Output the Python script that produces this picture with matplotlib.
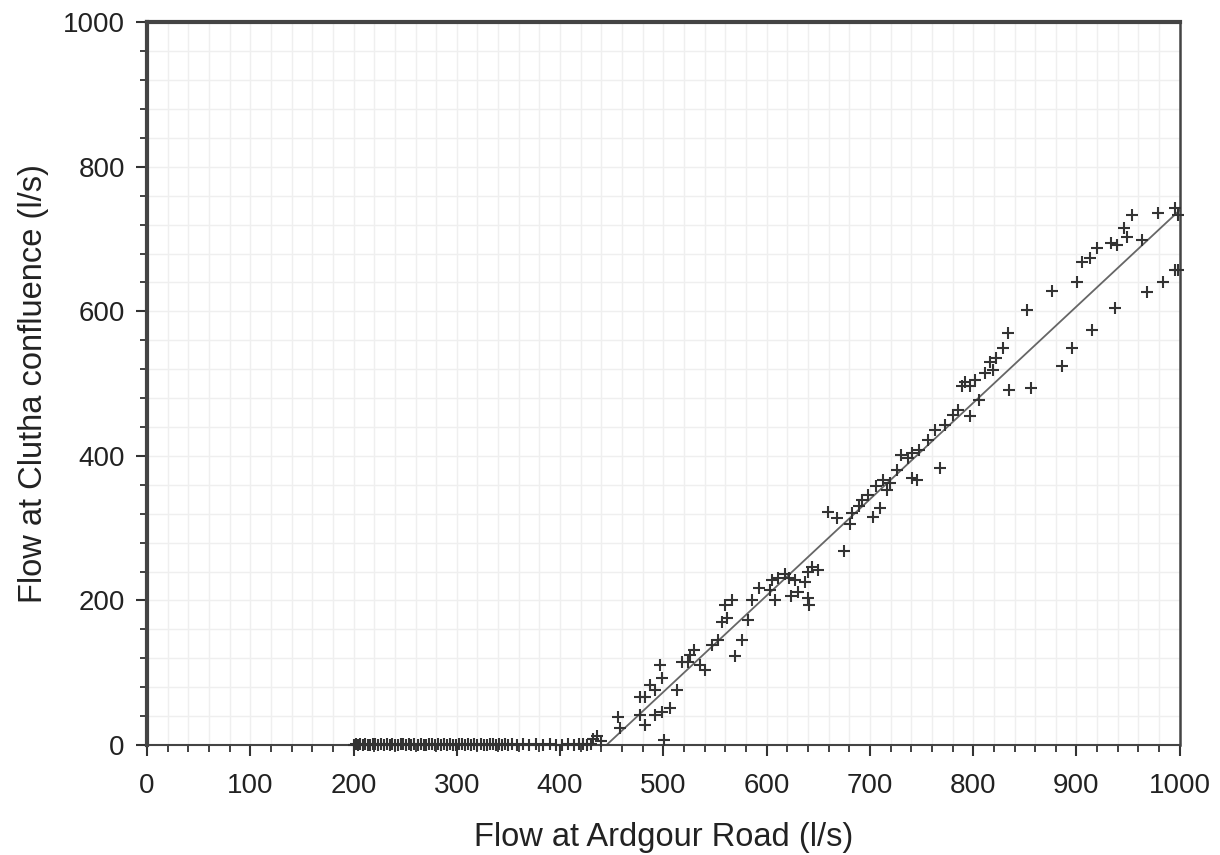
import numpy as np
import matplotlib.pyplot as plt
from matplotlib.ticker import MultipleLocator

plt.rcParams['font.family'] = ['Liberation Sans', 'DejaVu Sans']

# Flow readings, zero-flow band at Clutha confluence (l/s)
zero_x = [200, 202, 204, 206, 209, 211, 214, 216, 219, 221, 224, 227, 229, 232,
          235, 237, 240, 243, 246, 248, 251, 254, 256, 259, 262, 265, 268, 270,
          273, 276, 279, 282, 285, 288, 290, 293, 296, 299, 302, 305, 308, 311,
          314, 317, 320, 323, 326, 329, 332, 335, 338, 341, 344, 347, 350, 353,
          358, 364, 370, 377, 383, 390, 396, 402, 408, 413, 418, 422, 426, 430]
zero_y = [0, 1, 0, 2, 0, 1, 0, 0, 2, 1, 0, 1, 0, 2, 0, 1, 0, 0, 1, 2,
          0, 1, 0, 2, 0, 1, 0, 0, 2, 1, 0, 1, 0, 2, 0, 1, 0, 0, 1, 2,
          0, 1, 0, 2, 0, 1, 0, 0, 2, 1, 0, 1, 0, 2, 0, 1, 0, 1, 0, 2,
          0, 1, 0, 0, 1, 0, 2, 1, 0, 1]

# Flow readings once the stream connects (l/s)
flow_x = [432, 436, 440, 458, 456, 477, 482, 487, 492, 497, 499, 477, 482, 492,
          499, 506, 501, 513, 518, 524, 526, 530, 535, 540, 547, 553, 557, 562,
          560, 566, 569, 576, 582, 586, 593, 603, 605, 611, 608, 618, 622, 627,
          624, 630, 637, 640, 644, 650, 640, 641, 659, 668, 675, 681, 683, 689,
          692, 698, 703, 706, 710, 713, 717, 719, 726, 730, 737, 741, 741, 748,
          746, 756, 763, 768, 773, 780, 785, 789, 792, 797, 797, 802, 806, 811,
          816, 819, 822, 829, 834, 835, 852, 856, 876, 886, 896, 901, 905, 913,
          920, 915, 933, 937, 939, 946, 949, 954, 963, 968, 979, 984, 995, 998,
          995, 998]
flow_y = [8, 12, 5, 23, 39, 66, 66, 83, 76, 110, 93, 41, 28, 41,
          46, 51, 7, 76, 115, 115, 124, 131, 110, 104, 138, 145, 170, 176,
          194, 200, 123, 145, 173, 200, 217, 214, 228, 231, 200, 236, 231, 228,
          206, 212, 225, 239, 246, 242, 203, 194, 322, 314, 268, 306, 321, 331,
          339, 346, 315, 358, 328, 367, 353, 362, 380, 401, 397, 404, 369, 408,
          367, 422, 436, 383, 443, 456, 463, 497, 502, 497, 455, 505, 477, 515,
          530, 519, 535, 549, 570, 491, 602, 494, 628, 524, 549, 640, 668, 674,
          687, 574, 694, 604, 692, 715, 703, 733, 698, 627, 736, 640, 743, 733,
          657, 657]

# Fitted relationship end points
fit_x = [445, 1000]
fit_y = [0, 740]

fig = plt.figure(figsize=(12.2, 8.55), dpi=100)
ax = fig.add_axes([0.1205, 0.1287, 0.8465, 0.8453])

mk = dict(marker='+', linestyle='none', color='#333333', markersize=8, mew=1.5,
          clip_on=False, zorder=3)
ax.plot(zero_x, zero_y, **mk)
ax.plot(flow_x, flow_y, **mk)
ax.plot(fit_x, fit_y, color='#666666', lw=1.3)

ax.set_xlim(0, 1000)
ax.set_ylim(0, 1000)
ax.xaxis.set_major_locator(MultipleLocator(100))
ax.xaxis.set_minor_locator(MultipleLocator(20))
ax.yaxis.set_major_locator(MultipleLocator(200))
ax.yaxis.set_minor_locator(MultipleLocator(40))
ax.grid(True, which='both', color='#efefef', lw=1.0)
ax.set_axisbelow(True)

ax.tick_params(which='major', direction='out', length=8, width=1.5, colors='#333333',
               labelsize=20, labelcolor='#222222', pad=8)
ax.tick_params(which='minor', direction='out', length=5, width=1.3, colors='#333333')
ax.tick_params(axis='x', pad=12)

ax.spines['top'].set_linewidth(3)
ax.spines['left'].set_linewidth(3)
ax.spines['right'].set_linewidth(1.8)
ax.spines['bottom'].set_linewidth(1.5)
for s in ax.spines.values():
    s.set_color('#444444')

ax.set_xlabel('Flow at Ardgour Road (l/s)', fontsize=23.5, color='#222222', labelpad=17)
ax.set_ylabel('Flow at Clutha confluence (l/s)', fontsize=23.5, color='#222222', labelpad=10)

fig.savefig('out.png', dpi=100)
